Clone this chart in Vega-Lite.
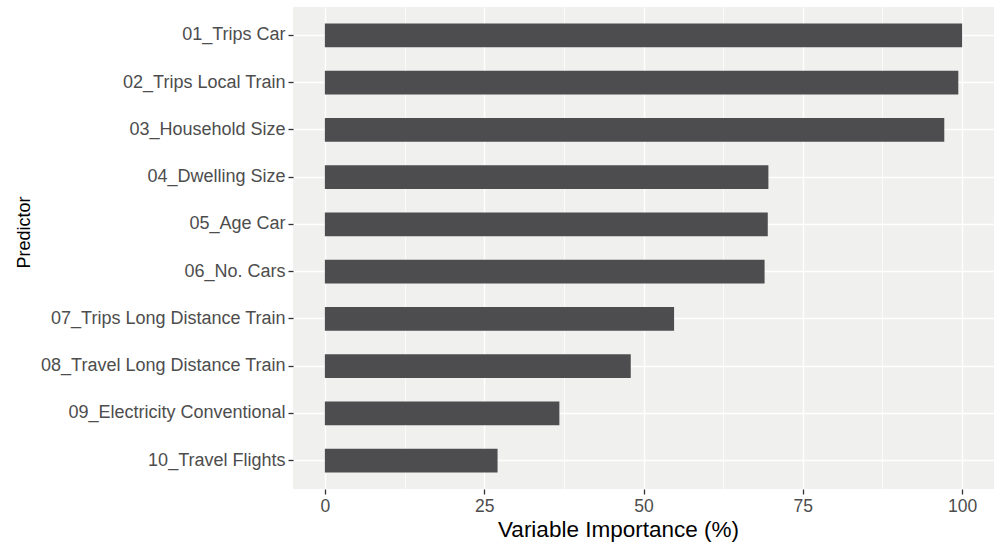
{
  "$schema": "https://vega.github.io/schema/vega-lite/v6.json",
  "autosize": {"type": "none"},
  "padding": {"left": 293, "top": 7, "right": 0, "bottom": 54},
  "width": 701,
  "height": 482,
  "background": "white",
  "data": {"values": [
    {"predictor": "01_Trips Car", "importance": 100},
    {"predictor": "02_Trips Local Train", "importance": 99.4},
    {"predictor": "03_Household Size", "importance": 97.2},
    {"predictor": "04_Dwelling Size", "importance": 69.6},
    {"predictor": "05_Age Car", "importance": 69.5},
    {"predictor": "06_No. Cars", "importance": 69.0},
    {"predictor": "07_Trips Long Distance Train", "importance": 54.8},
    {"predictor": "08_Travel Long Distance Train", "importance": 48.0},
    {"predictor": "09_Electricity Conventional", "importance": 36.8},
    {"predictor": "10_Travel Flights", "importance": 27.1}
  ]},
  "mark": {"type": "bar", "color": "#4D4D4F"},
  "encoding": {
    "y": {
      "field": "predictor", "type": "nominal", "sort": "ascending",
      "scale": {"paddingInner": 0.5, "paddingOuter": 0.35},
      "axis": {
        "title": "Predictor",
        "bandPosition": 0.5,
        "domain": false,
        "grid": true, "gridColor": "white", "gridWidth": 1.4,
        "ticks": true, "tickSize": 5, "tickWidth": 1.3, "tickColor": "#333333",
        "labelFont": "Liberation Sans", "labelFontSize": 18, "labelColor": "#4D4D4D", "labelPadding": 3,
        "labelLimit": 0,
        "titleFont": "Liberation Sans", "titleFontSize": 18, "titleFontWeight": "normal", "titleColor": "black",
        "titleX": -269, "titleY": 225, "titleAlign": "center", "titleBaseline": "middle", "titleAngle": -90
      }
    },
    "x": {
      "field": "importance", "type": "quantitative",
      "scale": {"domain": [-5, 105], "nice": false, "zero": false},
      "axis": {
        "title": "Variable Importance (%)",
        "values": [0, 12.5, 25, 37.5, 50, 62.5, 75, 87.5, 100],
        "labelExpr": "datum.value % 25 === 0 ? datum.label : ''",
        "domain": false,
        "grid": true, "gridColor": "white",
        "gridWidth": {"condition": {"test": "datum.value % 25 === 0", "value": 1.4}, "value": 0.7},
        "tickSize": 5, "tickWidth": 1.3, "tickColor": "#333333",
        "tickOpacity": {"condition": {"test": "datum.value % 25 === 0", "value": 1}, "value": 0},
        "labelFont": "Liberation Sans", "labelFontSize": 17.5, "labelColor": "#4D4D4D", "labelPadding": 3,
        "labelFlush": false,
        "titleFont": "Liberation Sans", "titleFontSize": 22.5, "titleFontWeight": "normal", "titleColor": "black",
        "titleX": 325, "titleY": 40, "titleAlign": "center", "titleBaseline": "middle"
      }
    }
  },
  "config": {
    "view": {"stroke": null, "fill": "#F0F1EF"}
  }
}
